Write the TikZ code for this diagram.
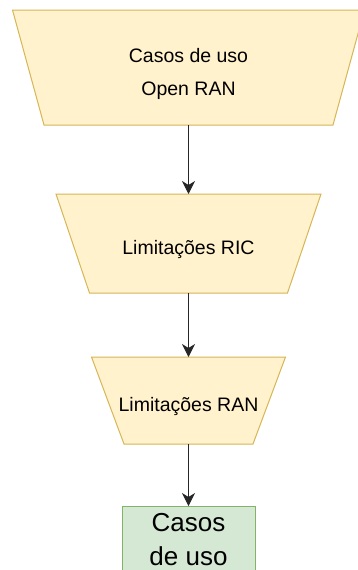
\documentclass[tikz,border=0pt]{standalone}
\usepackage{fontspec}
\setmainfont{Liberation Sans}
\usetikzlibrary{arrows.meta, positioning, backgrounds}
\definecolor{yfill}{HTML}{FFF2CC}
\definecolor{ydraw}{HTML}{D6B656}
\definecolor{gfill}{HTML}{D5E8D4}
\definecolor{gdraw}{HTML}{82B366}
\tikzset{
  >=Stealth,
  funnel/.style={
    rectangle, draw=none, outer sep=0pt, inner sep=2pt, align=center,
    text depth=0pt, font=\fontsize{19.5}{33}\selectfont
  },
  funnelline/.style={draw=ydraw, fill=yfill, line width=1pt, line join=miter},
  casebox/.style={
    rectangle, draw=gdraw, fill=gfill, line width=1pt, outer sep=0pt, align=center,
    inner sep=2pt, font=\fontsize{26}{34}\selectfont
  },
  arr/.style={-{Stealth[length=13pt,width=13pt,inset=4pt]}, line width=1pt, draw=black!85}
}
% trapezium drawn behind a named node: #1 node, #2 inset at the bottom
\newcommand\funnelshape[2]{%
  \path[funnelline] (#1.north west) -- (#1.north east)
    -- ([xshift=-#2]#1.south east) -- ([xshift=#2]#1.south west) -- cycle;}
\begin{document}
\begin{tikzpicture}[x=1pt,y=-1pt]
  \useasboundingbox (0,0) rectangle (358,570);
  \node[funnel, text height=55pt, minimum width=352pt, minimum height=115pt] (usecases) at (188.5,67.5) {Casos de uso\\Open RAN};
  \node[funnel, text height=21pt, minimum width=265pt, minimum height=99pt] (ric) at (188.5,243.5) {Limitações RIC};
  \node[funnel, text height=21pt, minimum width=194pt, minimum height=87pt] (ran) at (188.5,400.5) {Limitações RAN};
  \node[casebox, minimum width=133pt, minimum height=68pt] (cases) at (188.5,540) {Casos\\de uso};
  \begin{scope}[on background layer]
    \funnelshape{usecases}{31.5pt}
    \funnelshape{ric}{33.5pt}
    \funnelshape{ran}{32.5pt}
  \end{scope}
  \draw[arr] (usecases) -- (ric);
  \draw[arr] (ric) -- (ran);
  \draw[arr] (ran) -- (cases);
\end{tikzpicture}
\end{document}
